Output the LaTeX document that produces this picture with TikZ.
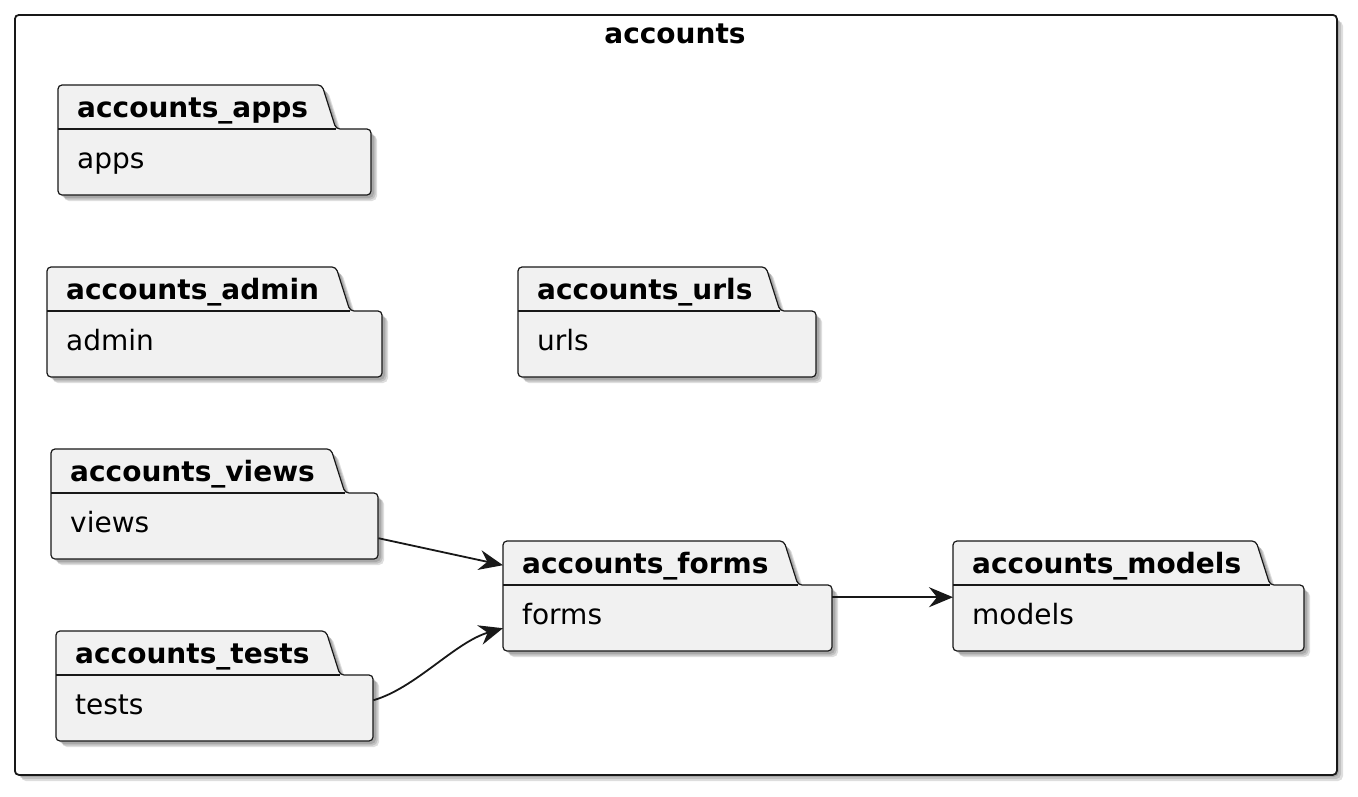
\documentclass[tikz,border=0pt]{standalone}
\usepackage{fontspec}
\setmainfont{DejaVu Sans}
\usetikzlibrary{arrows.meta}
\definecolor{pkgfill}{HTML}{F1F1F1}
\definecolor{ink}{HTML}{181818}
\tikzset{
  pkgline/.style={draw=ink, line width=1.2pt},
  ttl/.style={anchor=base west, inner sep=0pt, font=\bfseries\fontsize{28}{34}\selectfont},
  bodytxt/.style={anchor=base west, inner sep=0pt, font=\fontsize{28}{34}\selectfont},
  edge/.style={draw=ink, line width=1.8pt, -{Stealth[length=24pt,width=20pt,inset=8pt]}},
  shd/.style={fill=black, opacity=0.13},
}
% #1 name, #2 x1, #3 x2, #4 tab top, #5 tab right (top), #6 title, #7 body
\newcommand\pkgbox[7]{%
  \pgfmathsetmacro\bt{#4+44}%
  \pgfmathsetmacro\bb{#4+110}%
  \pgfmathsetmacro\tr{#5+14}%
  \pgfmathsetmacro\pw{#3-#2}%
  \foreach \o in {3,4.5,6}{%
    \fill[shd, rounded corners=5pt] (#2+\o,#4+\o) -- (#5+\o,#4+\o) -- (\tr+\o,\bt+\o) -- (#3+\o,\bt+\o) -- (#3+\o,\bb+\o) -- (#2+\o,\bb+\o) -- cycle;
  }
  \filldraw[pkgline, fill=pkgfill, rounded corners=4pt] (#2,\bb) -- (#2,#4) -- (#5,#4) -- (\tr,\bt) -- (#3,\bt) -- (#3,\bb) -- cycle;
  \draw[pkgline] (#2,\bt) -- (\tr,\bt);
  \node[inner sep=0pt, minimum width=\pw pt, minimum height=44pt, anchor=north west] (#1tab) at (#2,#4) {};
  \node[inner sep=0pt, minimum width=\pw pt, minimum height=66pt, anchor=north west] (#1) at (#2,\bt) {};
  \node[ttl] (#1title) at (#2+19,#4+32) {#6};
  \node[bodytxt] (#1text) at (#2+19,#4+83) {#7};
}
\begin{document}
\begin{tikzpicture}[x=1pt,y=-1pt]
\useasboundingbox (0,0) rectangle (1358,796);
% frame
\foreach \o in {3,5,7}{\fill[shd, rounded corners=5pt] (14+\o,14+\o) rectangle (1336+\o,774+\o);}
\node[draw=ink, line width=1.8pt, fill=white, rounded corners=4pt, inner sep=0pt, minimum width=1322pt, minimum height=760pt, anchor=north west] (frame) at (14,14) {};
\node[anchor=base, inner sep=0pt, font=\bfseries\fontsize{28}{34}\selectfont] (frametitle) at (675,43) {accounts};
% packages
\pkgbox{apps}{58}{371}{85}{322}{accounts\_apps}{apps}
\pkgbox{admin}{47}{382}{267}{336}{accounts\_admin}{admin}
\pkgbox{urls}{518}{816}{267}{766}{accounts\_urls}{urls}
\pkgbox{views}{51}{378}{449}{331}{accounts\_views}{views}
\pkgbox{tests}{56}{373}{631}{326}{accounts\_tests}{tests}
\pkgbox{forms}{503}{832}{541}{784}{accounts\_forms}{forms}
\pkgbox{models}{953}{1304}{541}{1256}{accounts\_models}{models}
% edges
\draw[edge] ([yshift=-12pt]views.east) -- ([yshift=-2pt]formstab.west);
\draw[edge] ([yshift=8pt]tests.east) .. controls +(42,-12) and +(-48,14) .. ([yshift=-10pt]forms.west);
\draw[edge] ([yshift=21pt]forms.east) -- ([yshift=21pt]models.west);
\end{tikzpicture}
\end{document}
